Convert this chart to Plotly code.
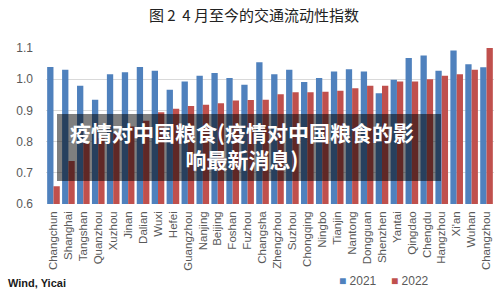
import plotly.graph_objects as go

cities = ["Changchun", "Shanghai", "Tangshan", "Quanzhou", "Xuzhou", "Jinan", "Dalian", "Wuxi",
          "Hefei", "Guangzhou", "Nanjing", "Beijing", "Foshan", "Fuzhou", "Changsha", "Zhengzhou",
          "Suzhou", "Chongqing", "Ningbo", "Tianjin", "Nantong", "Dongguan", "Shenzhen", "Yantai",
          "Qingdao", "Chengdu", "Hangzhou", "Xi'an", "Wuhan", "Changzhou"]
v2021 = [1.039, 1.030, 0.979, 0.934, 1.016, 1.022, 1.039, 1.027,
         0.966, 0.993, 1.011, 1.020, 1.004, 0.982, 1.054, 1.016,
         1.030, 0.991, 1.004, 1.025, 1.032, 1.025, 0.955, 0.998,
         1.068, 1.076, 1.027, 1.092, 1.048, 1.038]
v2022 = [0.657, 0.738, 0.797, 0.811, 0.826, 0.848, 0.867, 0.894,
         0.905, 0.914, 0.918, 0.923, 0.932, 0.933, 0.934, 0.952,
         0.958, 0.958, 0.960, 0.963, 0.971, 0.979, 0.979, 0.993,
         0.993, 1.000, 1.011, 1.016, 1.030, 1.100]
series_names = ["2021", "2022"]
series_colors = ["#4F81BD", "#C0504D"]
title_text = "图 2  4 月至今的交通流动性指数"
source_text = "Wind, Yicai"
overlay_text = "疫情对中国粮食(疫情对中国粮食的影<br>响最新消息)"

W, H = 500, 296
L, R, T, B = 46, 6, 48, 92
pw, ph = W - L - R, H - T - B

def px2x(px):
    return (px - L) / pw

def px2y(py):
    return (H - B - py) / ph

fig = go.Figure()
for name, vals, col in zip(series_names, [v2021, v2022], series_colors):
    fig.add_trace(go.Bar(x=cities, y=vals, name=name, marker_color=col, marker_line_width=0))

fig.update_layout(
    width=W, height=H,
    margin=dict(l=L, r=R, t=T, b=B),
    paper_bgcolor="white", plot_bgcolor="white",
    barmode="group", bargap=0.155, bargroupgap=0,
    font=dict(family="Liberation Sans, Arial", size=11, color="#595959"),
    title=dict(text=title_text, x=0.508, xref="container", xanchor="center",
               y=1 - 16 / H, yref="container", yanchor="middle",
               font=dict(family="Noto Sans CJK SC", size=15, color="#222222")),
    showlegend=False,
)
fig.update_yaxes(range=[0.6, 1.1], dtick=0.1, tickformat=".1f", showgrid=True,
                 gridcolor="#D9D9D9", gridwidth=1, zeroline=False, showline=False,
                 ticks="", ticklabelstandoff=12, tickfont=dict(size=12, color="#595959"))
fig.update_xaxes(tickangle=-90, showgrid=False, showline=False, ticks="",
                 ticklabelstandoff=4, tickfont=dict(size=11.5, color="#595959"))

# legend drawn as text entries
for name, col, lx in zip(series_names, series_colors, [337, 389]):
    fig.add_annotation(text='<span style="color:%s">■</span> %s' % (col, name),
                       xref="paper", yref="paper", x=px2x(lx), y=px2y(281),
                       xanchor="left", yanchor="middle", showarrow=False,
                       font=dict(family="Liberation Sans, Arial", size=12, color="#595959"))

fig.add_shape(type="rect", xref="paper", yref="paper",
              x0=px2x(57), x1=px2x(441), y0=px2y(181), y1=px2y(114),
              fillcolor="rgba(0,0,0,0.5)", line_width=0, layer="above")
fig.add_annotation(text="<b>" + overlay_text + "</b>", xref="paper", yref="paper",
                   x=px2x(242), y=px2y(145), xanchor="center", yanchor="middle", showarrow=False,
                   align="center",
                   font=dict(family="Noto Sans CJK SC", size=21, color="white"))
fig.add_annotation(text="<b>" + source_text + "</b>", xref="paper", yref="paper",
                   x=px2x(6), y=px2y(283), xanchor="left", yanchor="middle", showarrow=False,
                   font=dict(family="Liberation Sans, Arial", size=11, color="#1a1a1a"))

fig.write_html("out.html")
